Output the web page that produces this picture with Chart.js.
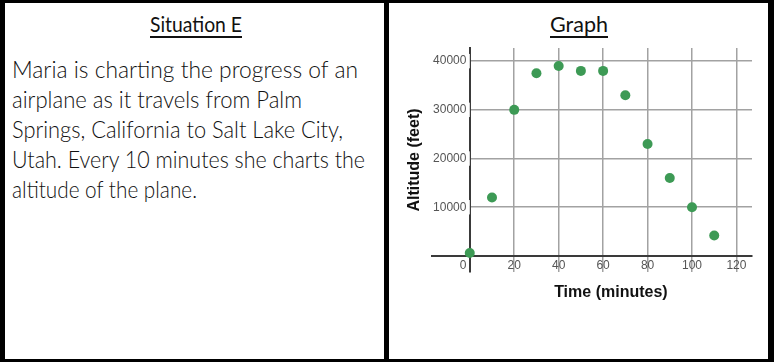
<!DOCTYPE html>
<html>
<head>
<meta charset="utf-8">
<script src="https://cdn.jsdelivr.net/npm/chart.js@4.4.1/dist/chart.umd.min.js"></script>
<style>
  html, body { margin: 0; padding: 0; background: #fff; }
  #page { position: relative; width: 774px; height: 362px; overflow: hidden; background: #fff; }
  .bar { position: absolute; background: #000; }
  .hand { font-family: Lato, 'DejaVu Sans Condensed', sans-serif; font-weight: 300; color: #111; white-space: nowrap; transform-origin: left top; position: absolute; }
  .head { top: 13px; font-size: 22px; line-height: 22px; font-weight: 400; text-decoration: underline; text-underline-offset: 4px; text-decoration-thickness: 1.5px; }
  .line { left: 12px; font-size: 24px; line-height: 24px; }
  #chart { position: absolute; left: 395px; top: 40px; }
</style>
</head>
<body>
<div id="page">
  <div class="bar" style="left:0;top:0;width:774px;height:3px"></div>
  <div class="bar" style="left:0;top:359px;width:774px;height:3px"></div>
  <div class="bar" style="left:0;top:0;width:5px;height:362px"></div>
  <div class="bar" style="left:384px;top:0;width:5px;height:362px"></div>
  <div class="bar" style="left:768px;top:0;width:6px;height:362px"></div>

  <div class="hand head" style="left:150px" data-w="92">Situation E</div>
  <div class="hand line" style="top:57px" data-w="346">Maria is charting the progress of an</div>
  <div class="hand line" style="top:87px" data-w="290">airplane as it travels from Palm</div>
  <div class="hand line" style="top:117px" data-w="331">Springs, California to Salt Lake City,</div>
  <div class="hand line" style="top:147px" data-w="353">Utah. Every 10 minutes she charts the</div>
  <div class="hand line" style="top:177px" data-w="185">altitude of the plane.</div>

  <div class="hand head" style="left:550px" data-w="58">Graph</div>

  <canvas id="chart" width="370" height="280"></canvas>
</div>
<script>
// time in minutes and altitude in feet
const minutes = [0, 10, 20, 30, 40, 50, 60, 70, 80, 90, 100, 110];
const altitude = [600, 12000, 30000, 37500, 39000, 38000, 38000, 33000, 23000, 16000, 10000, 4200];
const xTicks = [0, 20, 40, 60, 80, 100, 120];
const yTicks = [10000, 20000, 30000, 40000];
const xTitle = 'Time (minutes)';
const yTitle = 'Altitude (feet)';

// squeeze the handwritten lines to the widths in the worksheet
document.querySelectorAll('[data-w]').forEach(el => {
  const w = el.getBoundingClientRect().width;
  el.style.transform = `scaleX(${el.dataset.w / w})`;
});

const tickFont = { family: "'Liberation Sans', Arial, sans-serif", size: 12 };

const axisTitles = {
  id: 'axisTitles',
  afterDraw(chart) {
    const { ctx, chartArea, scales } = chart;
    ctx.save();
    ctx.fillStyle = '#111';
    ctx.font = "bold 16px 'Liberation Sans', Arial, sans-serif";
    ctx.textAlign = 'center';
    ctx.textBaseline = 'middle';
    const x0 = scales.x.getPixelForValue(0);
    ctx.fillText(xTitle, (x0 + chartArea.right) / 2, chartArea.bottom + 21);
    ctx.translate(chartArea.left - 17, (chartArea.top + chartArea.bottom) / 2);
    ctx.rotate(-Math.PI / 2);
    ctx.fillText(yTitle, 0, 0);
    ctx.restore();
  }
};

new Chart(document.getElementById('chart'), {
  type: 'scatter',
  data: {
    datasets: [{
      data: minutes.map((m, i) => ({ x: m, y: altitude[i] })),
      backgroundColor: '#3d9a55',
      borderWidth: 0,
      pointRadius: 5,
    }],
  },
  options: {
    responsive: false,
    animation: false,
    layout: { padding: { left: 37, right: 13, top: 8, bottom: 48 } },
    plugins: { legend: { display: false }, tooltip: { enabled: false } },
    scales: {
      x: {
        type: 'linear',
        min: -17,
        max: 127,
        position: { y: 0 },
        afterFit: (s) => { s.height = 0; },
        afterBuildTicks: (s) => { s.ticks = xTicks.map(v => ({ value: v })); },
        grid: { color: '#a2a2a2', lineWidth: 1.5, drawTicks: false },
        border: { color: '#3a3a3a', width: 2 },
        ticks: {
          color: '#555',
          font: tickFont,
          padding: 3,
          maxRotation: 0,
          autoSkip: false,
          callback: (v) => (v === 0 ? '0    ' : String(v)),
        },
      },
      y: {
        type: 'linear',
        min: -3300,
        max: 42700,
        position: { x: 0 },
        afterFit: (s) => { s.width = 0; },
        afterBuildTicks: (s) => { s.ticks = yTicks.map(v => ({ value: v })); },
        grid: { color: '#a2a2a2', lineWidth: 1.5, drawTicks: false },
        border: { color: '#3a3a3a', width: 2 },
        ticks: {
          color: '#555',
          font: tickFont,
          padding: 0,
          showLabelBackdrop: true,
          backdropColor: '#fff',
          backdropPadding: { left: 1, right: 0, top: 0, bottom: 0 },
          callback: (v) => v + ' ',
        },
      },
    },
  },
  plugins: [axisTitles],
});
</script>
</body>
</html>
